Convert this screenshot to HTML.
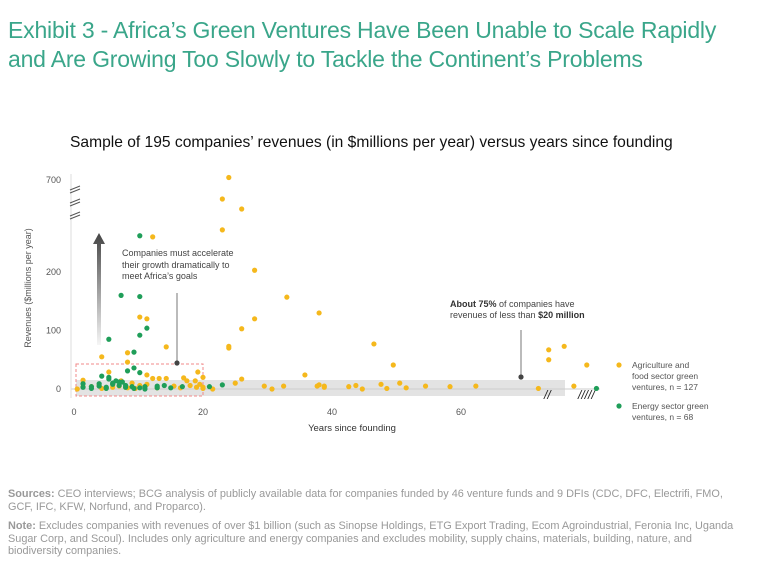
<!DOCTYPE html>
<html><head><meta charset="utf-8"><style>
body{margin:0;width:768px;height:580px;background:#fff;font-family:"Liberation Sans",sans-serif;overflow:hidden;position:relative}
.t{position:absolute;left:8px;top:16px;color:#3aa68a;font-size:23px;line-height:29px;letter-spacing:-0.2px}
.sub{position:absolute;left:70px;top:134px;font-size:15.6px;color:#111}
.foot{position:absolute;left:8px;font-size:10.9px;color:#999;line-height:12.5px;width:735px}
.foot b{font-weight:bold}
svg{position:absolute;left:0;top:0}
</style></head><body>
<div class="t">Exhibit 3 - Africa’s Green Ventures Have Been Unable to Scale Rapidly<br>and Are Growing Too Slowly to Tackle the Continent’s Problems</div>
<div class="sub">Sample of 195 companies’ revenues (in $millions per year) versus years since founding</div>
<svg id="chart" width="768" height="480">
<defs><linearGradient id="ag" x1="0" y1="0" x2="0" y2="1"><stop offset="0" stop-color="#444"/><stop offset="1" stop-color="#444" stop-opacity="0.05"/></linearGradient></defs>
</svg>
<div class="foot" style="top:488px"><b>Sources:</b> CEO interviews; BCG analysis of publicly available data for companies funded by 46 venture funds and 9 DFIs (CDC, DFC, Electrifi, FMO, GCF, IFC, KFW, Norfund, and Proparco).</div>
<div class="foot" style="top:520px"><b>Note:</b> Excludes companies with revenues of over $1 billion (such as Sinopse Holdings, ETG Export Trading, Ecom Agroindustrial, Feronia Inc, Uganda Sugar Corp, and Scoul). Includes only agriculture and energy companies and excludes mobility, supply chains, materials, building, nature, and biodiversity companies.</div>
<script>
const xTicks=[0,20,40,60];
const yTicks=[0,100,200,700];
const agriYears=[24,23,26,23,12.2,28,33,38,28,26,24,24,10.2,11.3,14.3,4.3,8.3,8.3,19.2,11.3,20,17,12.2,13.2,14.3,35.8,26,25,1.4,5.4,7.3,0.5,29.5,30.7,32.5,38,37.7,38.8,38.8,42.6,43.7,44.7,46.5,47.6,48.5,49.5,50.5,51.5,54.5,58.3,62.3,72,73.6,73.6,76,77.5,79.5,2.7,3.9,5,6,7,8,9,10.2,11,12.9,15.5,16.5,18,19,19.5,20,21.5,1.4,4.3,6,8.3,9.5,11.3,17.5,18.8,20];
const agriValues=[730,473,354,272,260,203,157,130,120,103,73,70,123,120,72,55,62,46,29,24,20,19,18,18,18,24,17,10,15,29,14,0,5,0,5,7,5,5,3,4,6,0,77,8,1,41,10,2,5,4,5,1,67,50,73,5,41,4,6,2,8,5,3,10,6,4,2,5,2,6,3,8,3,0,4,1,3,2,1,8,14,14,1];
const enerYears=[10.2,7.3,10.2,11.3,10.2,9.3,5.4,8.3,9.3,10.2,4.3,5.4,5.4,1.4,2.7,3.9,5,6,7,8,9,10.2,11,12.9,14,15,16.8,21,23,81,1.4,2.7,5,6,7,8,9.3,11,12.9,6.5,7.5,3.9];
const enerValues=[262,160,158,104,92,63,85,31,36,28,22,20,17,3,4,5,3,8,6,3,4,2,4,2,6,2,4,4,7,1,9,1,1,10,12,6,1,0,5,14,12,9];
const S='http://www.w3.org/2000/svg';
const svg=document.getElementById('chart');
const X0=74,XS=6.45,Y0=389,YS=0.585;
function xs(v){return X0+v*XS;}
function ys(v){return v<=300?Y0-v*YS:(Y0-300*YS)-(v-300)*(Y0-300*YS-180)/400;}
function mk(tag,a,p){const e=document.createElementNS(S,tag);for(const k in a)e.setAttribute(k,a[k]);(p||svg).appendChild(e);return e;}
function txt(s,x,y,a){const e=mk('text',Object.assign({x:x,y:y,'font-size':9,fill:'#555','font-family':'Liberation Sans, sans-serif'},a||{}));e.textContent=s;return e;}
let e;
e=mk('rect',{x:76,y:380,width:489,height:16,fill:'#e3e3e3'});


e=mk('line',{x1:71,y1:389,x2:600,y2:389,stroke:'#ccc','stroke-width':1});


e=mk('line',{x1:71,y1:174,x2:71,y2:398,stroke:'#ddd','stroke-width':1});


e=mk('rect',{x:76,y:364,width:127,height:32,fill:'none',stroke:'#f08a8a','stroke-dasharray':'3,2','stroke-width':1});


[[187],[200],[213]].forEach(function(b){mk('path',{d:'M70 '+(b[0]+3)+'L80 '+(b[0]-1)+'M70 '+(b[0]+6)+'L80 '+(b[0]+2),stroke:'#555','stroke-width':1});});
txt('//',544,399,{'font-size':12,fill:'#222','font-style':'italic'});
txt('/////',578,399,{'font-size':12,fill:'#222','font-style':'italic'});
xTicks.forEach(function(t){e=txt(String(t),xs(t),415,{'text-anchor':'middle'});

});
yTicks.forEach(function(t){e=txt(String(t),61,ys(t)+3,{'text-anchor':'end'});

});
e=txt('Years since founding',352,431,{'text-anchor':'middle','font-size':9.5,fill:'#333'});


e=txt('Revenues ($millions per year)',0,0,{'text-anchor':'middle','font-size':9,fill:'#555',transform:'translate(31 288) rotate(-90)'});


e=mk('polygon',{points:'93,244 99,233 105,244 101,244 101,345 97,345 97,244',fill:'url(#ag)'});


agriYears.forEach(function(y,i){e=mk('circle',{cx:xs(y),cy:ys(agriValues[i]),r:2.6,fill:'#f5b81c'});

});
enerYears.forEach(function(y,i){e=mk('circle',{cx:xs(y),cy:ys(enerValues[i]),r:2.6,fill:'#1f9e59'});

});
mk('line',{x1:177,y1:293,x2:177,y2:363,stroke:'#777'});mk('circle',{cx:177,cy:363,r:2.6,fill:'#444'});
mk('line',{x1:521,y1:330,x2:521,y2:377,stroke:'#777'});mk('circle',{cx:521,cy:377,r:2.6,fill:'#444'});
e=txt('Companies must accelerate',122,256,{'font-size':9,fill:'#444'});


txt('their growth dramatically to',122,268,{'font-size':9,fill:'#444'});
txt('meet Africa’s goals',122,279,{'font-size':9,fill:'#444'});
e=mk('text',{x:450,y:307,'font-size':9,fill:'#444','font-family':'Liberation Sans, sans-serif'});
e.innerHTML='<tspan font-weight="bold" fill="#333">About 75%</tspan> of companies have';


e=mk('text',{x:450,y:318,'font-size':9,fill:'#444','font-family':'Liberation Sans, sans-serif'});
e.innerHTML='revenues of less than <tspan font-weight="bold" fill="#333">$20 million</tspan>';
e=mk('circle',{cx:619,cy:365,r:2.6,fill:'#f5b81c'});


['Agriculture and','food sector green','ventures, n = 127'].forEach(function(s,i){e=txt(s,632,368+i*11,{'font-size':8.5});

});
e=mk('circle',{cx:619,cy:406,r:2.6,fill:'#1f9e59'});


['Energy sector green','ventures, n = 68'].forEach(function(s,i){e=txt(s,632,409+i*11,{'font-size':8.5});

});
</script>
</body></html>
